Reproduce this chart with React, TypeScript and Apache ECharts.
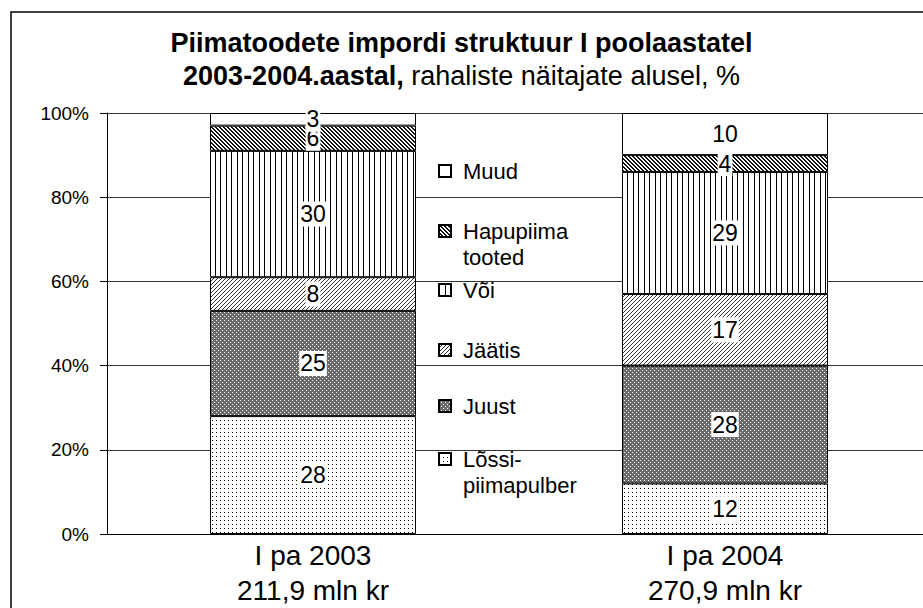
import React, { useEffect, useRef } from 'react';
import * as echarts from 'echarts';

const periods = ['I pa 2003', 'I pa 2004'];
const totals = ['211,9 mln kr', '270,9 mln kr'];
const seriesNames = ['Lõssi-piimapulber', 'Juust', 'Jäätis', 'Või', 'Hapupiima tooted', 'Muud'];
const legendLabels = ['Lõssi-\npiimapulber', 'Juust', 'Jäätis', 'Või', 'Hapupiima\ntooted', 'Muud'];
const lossi = [28, 12];
const juust = [25, 28];
const jaatis = [8, 17];
const voi = [30, 29];
const hapupiima = [6, 4];
const muud = [3, 10];

const FONT = '"Liberation Sans", Arial, sans-serif';

function makePattern(w: number, h: number, bg: string, fg: string, on: (x: number, y: number) => boolean) {
  const c = document.createElement('canvas');
  c.width = w;
  c.height = h;
  const ctx = c.getContext('2d')!;
  ctx.fillStyle = bg;
  ctx.fillRect(0, 0, w, h);
  ctx.fillStyle = fg;
  for (let y = 0; y < h; y++) for (let x = 0; x < w; x++) if (on(x, y)) ctx.fillRect(x, y, 1, 1);
  return { image: c, repeat: 'repeat' };
}

export default function App() {
  const ref = useRef<HTMLDivElement>(null);
  useEffect(() => {
    if (!ref.current) return;
    const chart = echarts.init(ref.current, null, { renderer: 'svg' });
    const fills: any[] = [
      makePattern(4, 4, '#fff', '#000', (x, y) => x === 0 && y === 0),
      makePattern(4, 4, '#6a6a6a', '#fff', (x, y) => (x === 0 && y === 0) || (x === 2 && y === 2)),
      makePattern(4, 4, '#fff', '#333', (x, y) => (x + y) % 4 === 3),
      makePattern(11, 1, '#fff', '#000', (x) => x === 0 || x === 6),
      makePattern(4, 4, '#fff', '#111', (x, y) => ((x - y + 8) % 4) < 2),
      '#fff',
    ];
    const dataSets = [lossi, juust, jaatis, voi, hapupiima, muud];
    const legendCenters = [459, 406, 350, 290, 231, 171];
    const series = seriesNames.map((name, i) => ({
      name,
      type: 'bar',
      stack: 'total',
      barWidth: '50%',
      data: dataSets[i],
      itemStyle: { color: fills[i], borderColor: '#000', borderWidth: 1 },
      label: {
        show: true,
        position: 'inside',
        color: '#000',
        fontSize: 23,
        fontFamily: FONT,
        backgroundColor: '#fff',
        padding: [1, 1],
      },
    }));
    const legends = seriesNames.map((name, i) => {
      const twoLine = legendLabels[i].includes('\n');
      const c = legendCenters[i];
      return {
        data: [name],
        left: 438,
        top: twoLine ? c - 39 : c - 13,
        orient: 'vertical',
        padding: 0,
        itemWidth: 12,
        itemHeight: 12,
        icon: 'rect',
        selectedMode: false,
        formatter: () => (twoLine ? ' \n' : '') + legendLabels[i],
        textStyle: {
          fontSize: 22,
          fontFamily: FONT,
          color: '#000',
          lineHeight: 26,
          padding: [0, 0, 0, 7],
        },
      };
    });
    chart.setOption({
      animation: false,
      backgroundColor: '#fff',
      title: {
        left: 'center',
        top: 26,
        padding: 0,
        text: '{b|Piimatoodete impordi struktuur I poolaastatel}\n{b|2003-2004.aastal,}{n| rahaliste näitajate alusel, %}',
        textStyle: {
          rich: {
            b: { fontWeight: 'bold', fontSize: 27, lineHeight: 33, fontFamily: FONT, color: '#000' },
            n: { fontWeight: 'normal', fontSize: 27, lineHeight: 33, fontFamily: FONT, color: '#000' },
          },
        },
      },
      legend: legends,
      grid: { left: 107, top: 113, width: 824, height: 421, containLabel: false, outerBoundsMode: 'none' },
      xAxis: {
        type: 'category',
        data: periods,
        axisTick: { show: false },
        axisLine: { lineStyle: { color: '#000', width: 1 } },
        axisLabel: {
          formatter: (v: string, i: number) => v + '\n' + totals[i],
          fontSize: 28,
          lineHeight: 35,
          color: '#000',
          fontFamily: FONT,
          margin: 4,
        },
      },
      yAxis: {
        type: 'value',
        min: 0,
        max: 100,
        interval: 20,
        axisLine: { show: true, lineStyle: { color: '#000', width: 1 } },
        axisTick: { show: true, length: 7, lineStyle: { color: '#000' } },
        axisLabel: { formatter: '{value}%', fontSize: 19, color: '#000', fontFamily: FONT, margin: 18 },
        splitLine: { lineStyle: { color: '#333', width: 1 } },
      },
      graphic: [
        {
          type: 'rect',
          shape: { x: 11, y: 12, width: 1000, height: 700 },
          style: { fill: 'none', stroke: '#000', lineWidth: 1.5 },
          silent: true,
          z: 100,
        },
      ],
      series,
    });
    return () => chart.dispose();
  }, []);
  return <div ref={ref} style={{ position: 'absolute', left: 0, top: 0, width: 923, height: 608 }} />;
}
